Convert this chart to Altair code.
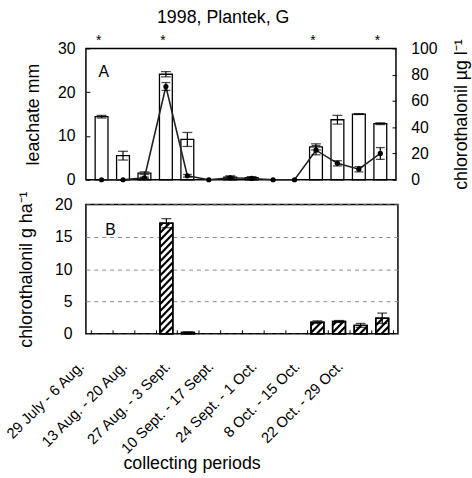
import json
import altair as alt
import pandas as pd

FONT = "Liberation Sans"

# ---------------- data ----------------
period_labels = ["29 July - 6 Aug.", "13 Aug. - 20 Aug.", "27 Aug. - 3 Sept.",
                 "10 Sept. - 17 Sept.", "24 Sept. - 1 Oct.", "8 Oct. - 15 Oct.",
                 "22 Oct. - 29 Oct."]
week = list(range(1, 15))
leachate = [14.4, 5.5, 1.5, 24.1, 9.2, 0.0, 0.6, 0.5, 0.0, 0.0, 7.5, 13.7, 15.0, 12.8]
leachate_err = [0.3, 1.0, 0.3, 0.6, 1.6, 0.0, 0.3, 0.2, 0.0, 0.0, 0.7, 1.0, 0.1, 0.2]
chl_conc = [0.0, 0.0, 1.5, 71.0, 3.0, 0.0, 1.5, 1.0, 0.0, 0.0, 22.5, 12.5, 8.0, 20.0]
chl_conc_err = [0.0, 0.0, 0.5, 3.0, 1.0, 0.0, 0.8, 0.8, 0.0, 0.0, 3.5, 2.0, 2.0, 4.5]
chl_load = [0.0, 0.0, 0.0, 17.1, 0.2, 0.0, 0.0, 0.0, 0.0, 0.0, 1.8, 1.9, 1.3, 2.4]
chl_load_err = [0.0, 0.0, 0.0, 0.7, 0.1, 0.0, 0.0, 0.0, 0.0, 0.0, 0.2, 0.15, 0.3, 0.8]
application_weeks = [1, 4, 11, 14]

df = pd.DataFrame({"week": week, "leach": leachate, "leach_err": leachate_err,
                   "conc": chl_conc, "conc_err": chl_conc_err,
                   "load": chl_load, "load_err": chl_load_err})
stars_df = pd.DataFrame({"week": application_weeks, "s": ["*"] * len(application_weeks)})

# tick labels every other week, ticks at the week boundaries
tick_values = [k + 0.5 for k in range(15)]
tick_text = []
for k in range(15):
    tick_text.append(period_labels[k // 2] if (k % 2 == 0 and k // 2 < len(period_labels)) else "")
label_expr = json.dumps(tick_text) + "[round(datum.value - 0.5)]"

BAR_PX = 13
xscale = alt.Scale(domain=[0.5, 14.5], nice=False, zero=False)
x_none = alt.X("week:Q", scale=xscale, axis=None)

# ---------------- panel A ----------------
WA, HA = 314, 133
base = alt.Chart(df)
yL = alt.Scale(domain=[0, 30], nice=False)
left_axis = alt.Axis(title="leachate mm", values=[0, 10, 20, 30], offset=-4, tickSize=4,
                     domain=False, grid=False, labelOverlap=False, labelPadding=11,
                     titlePadding=15, labelFontSize=16, titleFontSize=18)


def yl(field):
    return alt.Y(field, scale=yL, axis=left_axis, title="leachate mm")


bars_a = base.transform_filter("datum.leach > 0").mark_bar(
    size=BAR_PX, fill="white", stroke="black", strokeWidth=1.3, orient="vertical"
).encode(x=x_none, y=yl("leach:Q"))

leach_eb = base.transform_filter("datum.leach_err > 0").transform_calculate(
    lo="datum.leach - datum.leach_err", hi="datum.leach + datum.leach_err")
leach_rule = leach_eb.mark_rule(color="black", strokeWidth=1.2).encode(
    x=x_none, y=yl("lo:Q"), y2="hi:Q")
leach_cap_hi = leach_eb.mark_tick(orient="horizontal", size=10, thickness=1.3, color="black").encode(
    x=x_none, y=yl("hi:Q"))
leach_cap_lo = leach_eb.mark_tick(orient="horizontal", size=10, thickness=1.3, color="black").encode(
    x=x_none, y=yl("lo:Q"))
left_group = alt.layer(bars_a, leach_rule, leach_cap_hi, leach_cap_lo)

yR = alt.Scale(domain=[0, 100], nice=False)
right_title = "chlorothalonil µg l⁻¹"
right_axis = alt.Axis(orient="right", title=right_title, values=[0, 20, 40, 60, 80, 100],
                      offset=-4, tickSize=4, domain=False, grid=False, labelOverlap=False,
                      labelPadding=15, titleAngle=270, titleBaseline="top", titlePadding=16,
                      labelFontSize=16, titleFontSize=18)


def yr(field):
    return alt.Y(field, scale=yR, axis=right_axis, title=right_title)


conc_line = base.mark_line(color="#222", strokeWidth=1.6).encode(x=x_none, y=yr("conc:Q"))
conc_eb = base.transform_filter("datum.conc_err > 0").transform_calculate(
    lo="datum.conc - datum.conc_err", hi="datum.conc + datum.conc_err")
conc_rule = conc_eb.mark_rule(color="black", strokeWidth=1.2).encode(
    x=x_none, y=yr("lo:Q"), y2="hi:Q")
conc_cap_hi = conc_eb.mark_tick(orient="horizontal", size=9, thickness=1.3, color="black").encode(
    x=x_none, y=yr("hi:Q"))
conc_cap_lo = conc_eb.mark_tick(orient="horizontal", size=9, thickness=1.3, color="black").encode(
    x=x_none, y=yr("lo:Q"))
conc_pts = base.mark_point(filled=True, size=28, color="black", opacity=1).encode(
    x=x_none, y=yr("conc:Q"))
right_group = alt.layer(conc_line, conc_rule, conc_cap_hi, conc_cap_lo, conc_pts)

stars = alt.Chart(stars_df).mark_text(fontSize=14, baseline="alphabetic", dx=-3, color="black").encode(
    x=x_none, y=alt.value(-3), text="s:N")
letter_a = alt.Chart(pd.DataFrame({"t": ["A"]})).mark_text(
    fontSize=16, align="center", baseline="middle", color="black").encode(
    x=alt.value(18), y=alt.value(24), text="t:N")

panel_a = alt.layer(left_group, right_group, stars, letter_a).resolve_scale(y="independent").properties(
    width=WA, height=HA,
    title=alt.TitleParams("1998, Plantek, G", fontSize=18, fontWeight="normal", font=FONT,
                          anchor="middle", dx=-18, offset=8, color="black"))

# ---------------- panel B ----------------
WB, HB = 316, 131
yB = alt.Scale(domain=[0, 20], nice=False)
b_title = "chlorothalonil g ha⁻¹"
b_axis = alt.Axis(title=b_title, values=[0, 5, 10, 15, 20], ticks=False, domain=False,
                  grid=True, gridDash=[4, 4], gridColor="#888", gridWidth=1, labelOverlap=False,
                  labelPadding=14, titlePadding=19, labelFontSize=16, titleFontSize=18)
xb_axis = alt.Axis(values=tick_values, labelExpr=label_expr, labelAngle=-45,
                   labelFontSize=15, offset=-4, tickSize=4, domain=False,
                   labelOverlap=False, labelBound=False, labelFlush=False,
                   labelOffset=-15, labelPadding=25, grid=False,
                   title="collecting periods", titleFontSize=18,
                   titleX=107, titleY=135, titleAlign="center", titleBaseline="middle")


def xb(field):
    return alt.X(field, scale=xscale, axis=xb_axis, title="collecting periods")


def yb(field):
    return alt.Y(field, scale=yB, axis=b_axis, title=b_title)


baseB = alt.Chart(df).transform_filter("datum.load > 0")
bars_b = baseB.mark_bar(size=BAR_PX, fill="white", stroke="black", strokeWidth=1.5, orient="vertical").encode(
    x=xb("week:Q"), y=yb("load:Q"))

# diagonal hatching inside the bars (45 degrees in pixel space)
half_w = (BAR_PX / 2) / (WB / 14.0)        # half bar width in x units
diag = BAR_PX / (HB / 20.0)                # y units spanned by one bar width
hatch = baseB.transform_calculate(
    s=f"sequence(-{diag:.3f}, datum.load, 1.1)"
).transform_flatten(["s"]).transform_calculate(
    ya="max(datum.s, 0)", yb=f"min(datum.s + {diag:.3f}, datum.load)"
).transform_filter("datum.yb > datum.ya").transform_calculate(
    xa=f"datum.week - {half_w:.4f} + (datum.ya - datum.s) / {diag:.3f} * {2 * half_w:.4f}",
    xb=f"datum.week - {half_w:.4f} + (datum.yb - datum.s) / {diag:.3f} * {2 * half_w:.4f}",
).mark_rule(color="black", strokeWidth=2.2).encode(
    x=xb("xa:Q"), x2="xb:Q", y=yb("ya:Q"), y2="yb:Q")
bars_b_outline = baseB.mark_bar(size=BAR_PX, fillOpacity=0, stroke="black", strokeWidth=1.5,
                                orient="vertical").encode(x=xb("week:Q"), y=yb("load:Q"))

load_eb = alt.Chart(df).transform_filter("datum.load_err > 0").transform_calculate(
    lo="datum.load - datum.load_err", hi="datum.load + datum.load_err")
load_rule = load_eb.mark_rule(color="black", strokeWidth=1.2).encode(
    x=xb("week:Q"), y=yb("lo:Q"), y2="hi:Q")
load_cap_hi = load_eb.mark_tick(orient="horizontal", size=10, thickness=1.3, color="black").encode(
    x=xb("week:Q"), y=yb("hi:Q"))
load_cap_lo = load_eb.mark_tick(orient="horizontal", size=10, thickness=1.3, color="black").encode(
    x=xb("week:Q"), y=yb("lo:Q"))

letter_b = alt.Chart(pd.DataFrame({"t": ["B"]})).mark_text(
    fontSize=16, align="center", baseline="middle", color="black").encode(
    x=alt.value(25), y=alt.value(26), text="t:N")

panel_b = alt.layer(bars_b, hatch, bars_b_outline, load_rule, load_cap_hi, load_cap_lo, letter_b).properties(
    width=WB, height=HB)

chart = alt.vconcat(panel_a, panel_b, spacing=25, bounds="flush").properties(
    padding={"left": 2, "top": 5, "right": 0, "bottom": 0}
).configure(font=FONT, background="white").configure_view(
    stroke="black", strokeWidth=1.5
).configure_axis(
    labelColor="black", titleColor="black", tickColor="black", tickWidth=1,
    labelFont=FONT, titleFont=FONT, titleFontWeight="normal", labelOverlap=False
)

chart.save("out.html", embed_options={"renderer": "svg", "actions": False})
